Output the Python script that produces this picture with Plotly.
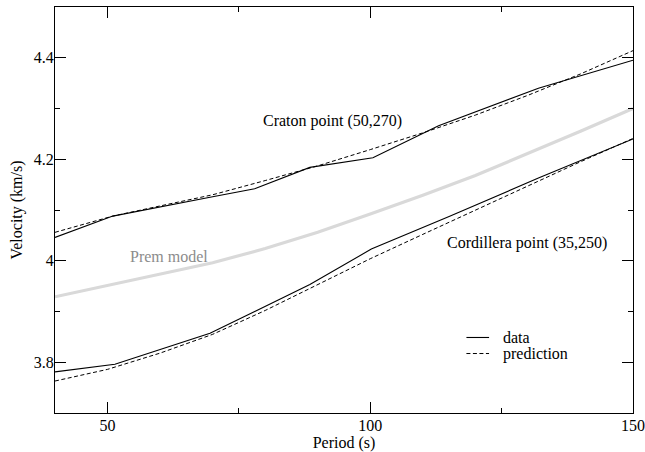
import plotly.graph_objects as go

# ---- data ----
craton_data_period = [40, 51, 70, 78, 88.5, 100.5, 113, 132, 150]
craton_data_vel = [4.046, 4.088, 4.126, 4.142, 4.184, 4.203, 4.266, 4.340, 4.395]

craton_pred_period = [40, 51, 60, 70, 80, 90, 100, 110, 120, 130, 140, 150]
craton_pred_vel = [4.056, 4.088, 4.108, 4.130, 4.158, 4.187, 4.219, 4.252, 4.287, 4.326, 4.368, 4.414]

cord_data_period = [40, 51.4, 69.5, 78, 88.5, 100.2, 115, 132, 150]
cord_data_vel = [3.781, 3.796, 3.857, 3.900, 3.953, 4.023, 4.087, 4.163, 4.240]

cord_pred_period = [40, 50, 60, 70, 80, 90, 100, 110, 120, 130, 140, 150]
cord_pred_vel = [3.763, 3.786, 3.818, 3.855, 3.902, 3.953, 4.004, 4.052, 4.100, 4.148, 4.195, 4.241]

prem_period = [40, 50, 60, 70, 80, 90, 100, 110, 120, 130, 140, 150]
prem_vel = [3.929, 3.951, 3.973, 3.996, 4.024, 4.056, 4.092, 4.129, 4.168, 4.211, 4.255, 4.300]

x_tickvals = [50, 100, 150]
y_tickvals = [3.8, 4.0, 4.2, 4.4]
y_ticktext = ["3.8", "4", "4.2", "4.4"]

FONT = "Liberation Serif, Times New Roman, Times, serif"
DASH = "4px,2.5px"

fig = go.Figure()
fig.add_trace(go.Scatter(x=prem_period, y=prem_vel, mode="lines",
                         line=dict(color="#d9d9d9", width=3.2), showlegend=False))
fig.add_trace(go.Scatter(x=craton_pred_period, y=craton_pred_vel, mode="lines",
                         line=dict(color="black", width=1, dash=DASH), showlegend=False))
fig.add_trace(go.Scatter(x=craton_data_period, y=craton_data_vel, mode="lines",
                         line=dict(color="black", width=1.1), showlegend=False))
fig.add_trace(go.Scatter(x=cord_pred_period, y=cord_pred_vel, mode="lines",
                         line=dict(color="black", width=1, dash=DASH), showlegend=False))
fig.add_trace(go.Scatter(x=cord_data_period, y=cord_data_vel, mode="lines",
                         line=dict(color="black", width=1.1), showlegend=False))

# text labels
fig.add_annotation(x=92.8, y=4.276, text="Craton point (50,270)", showarrow=False,
                   font=dict(family=FONT, size=16, color="black"))
fig.add_annotation(x=61.7, y=4.009, text="Prem model", showarrow=False,
                   font=dict(family=FONT, size=16, color="#8c8c8c"))
fig.add_annotation(x=129.9, y=4.035, text="Cordillera point (35,250)", showarrow=False,
                   font=dict(family=FONT, size=16, color="black"))

# manual legend
fig.add_shape(type="line", xref="paper", yref="paper", x0=0.7118, x1=0.751, y0=0.186, y1=0.186,
              line=dict(color="black", width=1.1))
fig.add_shape(type="line", xref="paper", yref="paper", x0=0.7118, x1=0.751, y0=0.1465, y1=0.1465,
              line=dict(color="black", width=1, dash=DASH))
fig.add_annotation(xref="paper", yref="paper", x=0.771, y=0.186, text="data", showarrow=False,
                   xanchor="left", yanchor="middle", font=dict(family=FONT, size=16, color="black"))
fig.add_annotation(xref="paper", yref="paper", x=0.771, y=0.1465, text="prediction", showarrow=False,
                   xanchor="left", yanchor="middle", font=dict(family=FONT, size=16, color="black"))

axis_common = dict(showgrid=False, zeroline=False, showline=True, linecolor="black", linewidth=1.2,
                   mirror="allticks", ticks="inside", ticklen=11, tickwidth=1, tickcolor="black",
                   automargin=False,
                   tickfont=dict(family=FONT, size=16, color="black"))

fig.update_xaxes(range=[40, 150], tickvals=x_tickvals, ticklabelstandoff=-2,
                 minor=dict(ticks="inside", ticklen=5, tickwidth=1, tickcolor="black", dtick=25, tick0=0),
                 title=dict(text="Period (s)", font=dict(family=FONT, size=16, color="black"), standoff=9),
                 **axis_common)
fig.update_yaxes(range=[3.7, 4.5], tickvals=y_tickvals, ticktext=y_ticktext, ticklabelstandoff=-3,
                 minor=dict(ticks="inside", ticklen=5, tickwidth=1, tickcolor="black", dtick=0.1, tick0=0),
                 title=dict(text="Velocity (km/s)", font=dict(family=FONT, size=16, color="black"), standoff=7),
                 **axis_common)

fig.update_layout(width=645, height=452, plot_bgcolor="white", paper_bgcolor="white",
                  font=dict(family=FONT, size=16, color="black"),
                  margin=dict(l=55, r=11.5, t=7, b=39.3), showlegend=False)

# remove the page's default body margin so the figure fills the window exactly
fig.write_html("out.html", config={"displayModeBar": False},
               post_script="document.body.style.margin='0';document.body.style.overflow='hidden';")
